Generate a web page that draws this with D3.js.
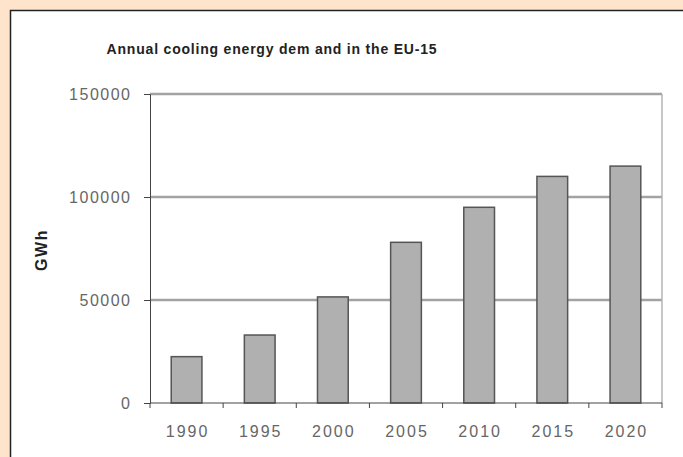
<!DOCTYPE html>
<html>
<head>
<meta charset="utf-8">
<script src="https://cdn.jsdelivr.net/npm/d3@7"></script>
<style>
  body { margin: 0; background: #fde4cb; }
  svg { display: block; }
</style>
</head>
<body>
<div id="canvas"></div>
<script>
const years = ["1990", "1995", "2000", "2005", "2010", "2015", "2020"];
const demand = [22500, 33000, 51500, 78000, 95000, 110000, 115000];
const yTicks = [0, 50000, 100000, 150000];

const width = 683;
const height = 457;
const margin = { top: 94, left: 150, bottom: 54, right: 21 };
const iwidth = width - margin.left - margin.right;
const iheight = height - margin.top - margin.bottom;
const font = "Liberation Sans, Arial, sans-serif";

const svg = d3.select("#canvas").append("svg")
  .attr("width", width)
  .attr("height", height);

// white panel with dark edge on left/top
svg.append("rect")
  .attr("x", 10.5).attr("y", 10.5)
  .attr("width", width).attr("height", height)
  .attr("fill", "#fff")
  .attr("stroke", "#222")
  .attr("stroke-width", 1.5);

svg.append("text")
  .attr("x", 272).attr("y", 54)
  .attr("text-anchor", "middle")
  .style("font-family", font)
  .style("font-size", "14px")
  .style("font-weight", "bold")
  .style("letter-spacing", "0.8px")
  .attr("fill", "#222")
  .text("Annual cooling energy dem and in the EU-15");

let g = svg.append("g").attr("transform", `translate(${margin.left},${margin.top})`);

var x = d3.scaleBand()
  .domain(years)
  .range([0, iwidth])
  .paddingInner(0.58)
  .paddingOuter(0.29);

var y = d3.scaleLinear()
  .domain([0, 150000])
  .range([iheight, 0]);

// gridlines
g.selectAll(".grid")
  .data(yTicks.filter(d => d > 0))
  .enter().append("line")
  .attr("x1", 0).attr("x2", iwidth)
  .attr("y1", d => y(d)).attr("y2", d => y(d))
  .attr("stroke", "#a3a3a3")
  .attr("stroke-width", 2.5);

// right border
g.append("line")
  .attr("x1", iwidth).attr("x2", iwidth)
  .attr("y1", 0).attr("y2", iheight)
  .attr("stroke", "#b5b5b5")
  .attr("stroke-width", 1.5);

g.selectAll(".bar")
  .data(years)
  .enter().append("rect")
  .attr("class", "bar")
  .attr("x", (d) => x(d))
  .attr("y", (d, i) => y(demand[i]))
  .attr("width", x.bandwidth())
  .attr("height", (d, i) => iheight - y(demand[i]))
  .attr("fill", "#b0b0b0")
  .attr("stroke", "#555")
  .attr("stroke-width", 1.5);

// y axis
let ya = g.append("g")
  .call(d3.axisLeft(y).tickValues(yTicks).tickSize(6).tickPadding(12.5).tickFormat(d3.format("d")));
ya.select(".domain").attr("stroke", "#444");
ya.selectAll(".tick line").attr("stroke", "#444");
ya.selectAll("text")
  .style("font-family", font)
  .style("font-size", "16px")
  .style("letter-spacing", "1.5px")
  .attr("fill", "#666");

// x axis: ticks between categories
const step = x.step();
let xa = g.append("g")
  .attr("transform", `translate(0,${iheight})`);
xa.append("line")
  .attr("x1", 0).attr("x2", iwidth)
  .attr("stroke", "#444");
xa.selectAll(".xt")
  .data(d3.range(years.length + 1))
  .enter().append("line")
  .attr("x1", d => d * step).attr("x2", d => d * step)
  .attr("y1", 0).attr("y2", 5)
  .attr("stroke", "#444");
xa.selectAll(".xl")
  .data(years)
  .enter().append("text")
  .attr("x", d => x(d) + x.bandwidth() / 2 + 1)
  .attr("y", 34)
  .attr("text-anchor", "middle")
  .style("font-family", font)
  .style("font-size", "16px")
  .style("letter-spacing", "2px")
  .attr("fill", "#666")
  .text(d => d);

svg.append("text")
  .attr("transform", "translate(47,250) rotate(-90)")
  .attr("text-anchor", "middle")
  .style("font-family", font)
  .style("font-size", "16px")
  .style("font-weight", "bold")
  .style("letter-spacing", "1.5px")
  .attr("fill", "#222")
  .text("GWh");
</script>
</body>
</html>
